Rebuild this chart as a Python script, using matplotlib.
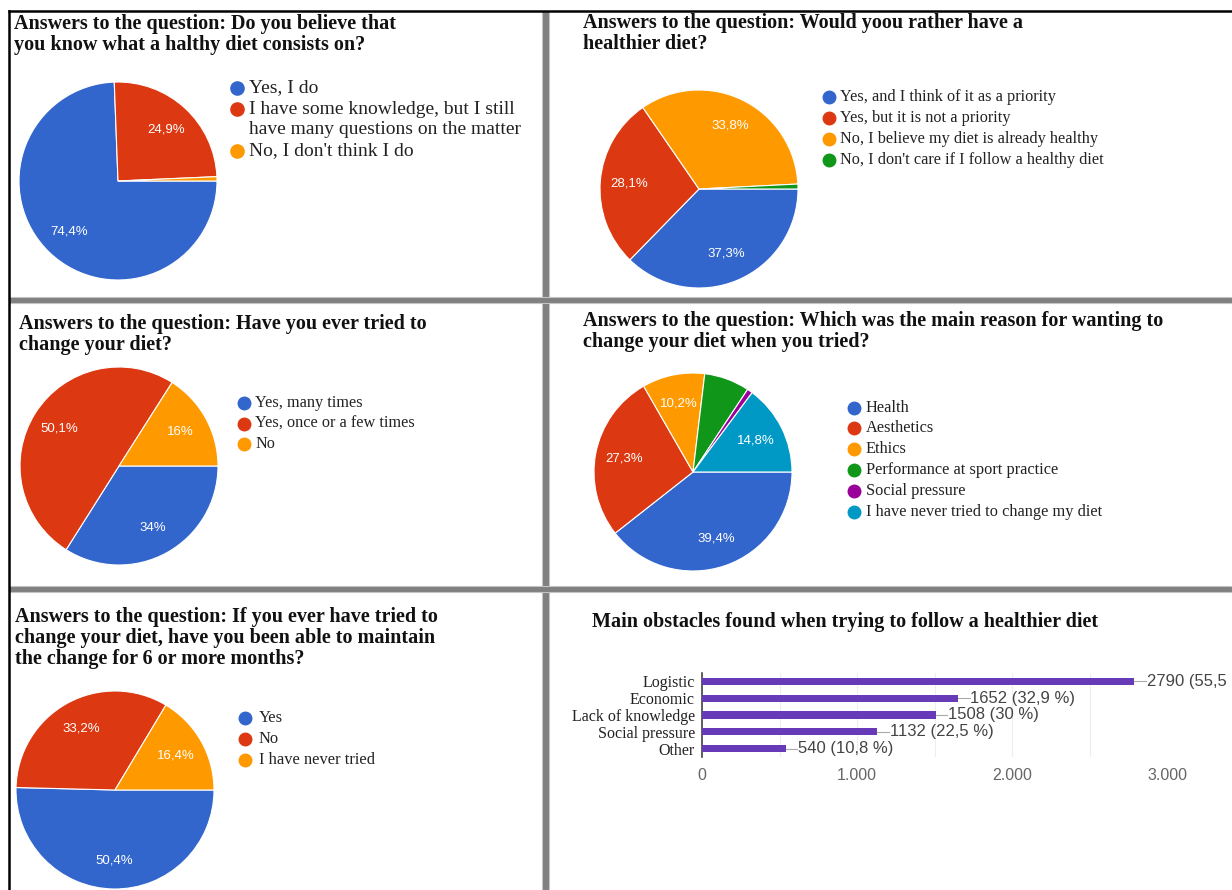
import numpy as np
import matplotlib
matplotlib.use("Agg")
import matplotlib.pyplot as plt
from matplotlib.patches import Rectangle
from matplotlib.ticker import FuncFormatter

W, H = 1232, 890

# couleurs (palette Google Forms)
blue = "#3366CC"
red = "#DC3912"
orange = "#FF9900"
green = "#109618"
purple = "#990099"
teal = "#0099C6"
bar_color = "#673AB7"

# question 1
q1_title = ["Answers to the question: Do you believe that", "you know what a halthy diet consists on?"]
q1_labels = ["Yes, I do", "I have some knowledge, but I still\nhave many questions on the matter", "No, I don't think I do"]
q1_values = [74.4, 24.9, 0.7]

# question 2
q2_title = ["Answers to the question: Would yoou rather have a", "healthier diet?"]
q2_labels = ["Yes, and I think of it as a priority", "Yes, but it is not a priority",
             "No, I believe my diet is already healthy", "No, I don't care if I follow a healthy diet"]
q2_values = [37.3, 28.1, 33.8, 0.8]

# question 3
q3_title = ["Answers to the question: Have you ever tried to", "change your diet?"]
q3_labels = ["Yes, many times", "Yes, once or a few times", "No"]
q3_values = [34, 50.1, 16]

# question 4
q4_title = ["Answers to the question: Which was the main reason for wanting to", "change your diet when you tried?"]
q4_labels = ["Health", "Aesthetics", "Ethics", "Performance at sport practice", "Social pressure",
             "I have never tried to change my diet"]
q4_values = [39.4, 27.3, 10.2, 7.4, 0.9, 14.8]

# question 5
q5_title = ["Answers to the question: If you ever have tried to", "change your diet, have you been able to maintain",
            "the change for 6 or more months?"]
q5_labels = ["Yes", "No", "I have never tried"]
q5_values = [50.4, 33.2, 16.4]

# obstacles
q6_title = ["Main obstacles found when trying to follow a healthier diet"]
obstacles = ["Logistic", "Economic", "Lack of knowledge", "Social pressure", "Other"]
obstacle_counts = [2790, 1652, 1508, 1132, 540]
obstacle_pct = ["55,5", "32,9", "30", "22,5", "10,8"]
x_ticks = [0, 1000, 2000, 3000]

colors = [blue, red, orange, green, purple, teal]

plt.rcParams["font.family"] = "Liberation Serif"

fig = plt.figure(figsize=(W / 100, H / 100), dpi=100)

# fond en pixels pour les cadres, titres et legendes
bg = fig.add_axes([0, 0, 1, 1])
bg.set_xlim(0, W)
bg.set_ylim(H, 0)
bg.axis("off")

bg.plot([9, W], [11, 11], color="black", lw=1.8)
bg.plot([9, 9], [11, H], color="black", lw=1.8)
bg.add_patch(Rectangle((542, 11), 7, H - 11, facecolor="#808080", edgecolor="#c4c4c4", lw=0.8))
bg.add_patch(Rectangle((9, 297), W - 9, 6, facecolor="#808080", edgecolor="#c4c4c4", lw=0.8))
bg.add_patch(Rectangle((9, 586), W - 9, 6, facecolor="#808080", edgecolor="#c4c4c4", lw=0.8))


def draw_title(x, y, lines, size=14.5):
    for k, line in enumerate(lines):
        bg.text(x, y + k * 21, line, fontsize=size, fontweight="bold", va="baseline", color="#111111")


def pct_text(v):
    return ("%g" % v).replace(".", ",") + "%"


def draw_pie(cx, cy, r, values):
    ax = fig.add_axes([(cx - r) / W, 1 - (cy + r) / H, 2 * r / W, 2 * r / H])
    wedges, _ = ax.pie(values, colors=colors[:len(values)], startangle=0, counterclock=False,
                       wedgeprops=dict(edgecolor="white", linewidth=0.8))
    ax.set_xlim(-1, 1)
    ax.set_ylim(-1, 1)
    for w, v in zip(wedges, values):
        if v < 10:
            continue
        a = np.deg2rad((w.theta1 + w.theta2) / 2)
        ax.text(0.71 * np.cos(a), 0.71 * np.sin(a), pct_text(v), color="white", fontsize=9.5,
                family="Liberation Sans", ha="center", va="center")


def draw_legend(xm, xt, y0, gap, labels, size, ms=9):
    y = y0
    for lab, c in zip(labels, colors):
        bg.plot(xm, y, "o", color=c, ms=ms)
        for line in lab.split("\n"):
            bg.text(xt, y, line, fontsize=size, va="center", color="#222222")
            y += gap


draw_title(14, 29, q1_title)
draw_pie(118, 181, 99, q1_values)
draw_legend(237, 249, 88, 21, q1_labels, 14, ms=9.5)

draw_title(583, 28, q2_title)
draw_pie(699, 189, 99, q2_values)
draw_legend(829, 840, 97, 21, q2_labels, 11.7)

draw_title(19, 329, q3_title)
draw_pie(119, 466, 99, q3_values)
draw_legend(244, 255, 403, 20.5, q3_labels, 11.7)

draw_title(583, 326, q4_title)
draw_pie(693, 472, 99, q4_values)
draw_legend(854, 866, 407.5, 20.8, q4_labels, 11.8)

draw_title(15, 622, q5_title)
draw_pie(115, 790, 99, q5_values)
draw_legend(245, 259, 718, 21, q5_labels, 11.9)

draw_title(592, 627, q6_title)

# graphique en barres
ax = fig.add_axes([702 / W, 1 - 757 / H, 465 / W, 84 / H])
ypos = np.arange(len(obstacles))
ax.barh(ypos, obstacle_counts, height=0.42, color=bar_color, zorder=3)
ax.set_xlim(0, 3000)
ax.set_ylim(len(obstacles) - 0.5, -0.5)
ax.set_yticks(ypos)
ax.set_yticklabels(obstacles, fontsize=11.5, color="#222222")
ax.set_xticks(x_ticks)
ax.set_xticks(range(0, 3001, 500), minor=True)
ax.xaxis.set_major_formatter(FuncFormatter(lambda v, p: "{:,.0f}".format(v).replace(",", ".")))
for lab in ax.get_xticklabels():
    lab.set_family("Liberation Sans")
ax.tick_params(axis="x", which="both", length=0, pad=8, labelsize=11.5, labelcolor="#666666")
ax.tick_params(axis="y", length=0, pad=5)
ax.grid(axis="x", which="both", color="#eeeeee", lw=0.8, zorder=0)
for s in ["top", "right", "bottom"]:
    ax.spines[s].set_visible(False)
ax.spines["left"].set_color("#444444")
ax.spines["left"].set_linewidth(1.2)
for i, (c, p) in enumerate(zip(obstacle_counts, obstacle_pct)):
    ax.plot([c, c + 75], [i, i], color="#aaaaaa", lw=0.8, clip_on=False)
    ax.text(c + 80, i, "%d (%s %%)" % (c, p), fontsize=12, family="Liberation Sans",
            color="#444444", va="center", clip_on=False)

fig.savefig("out.png", dpi=100)
